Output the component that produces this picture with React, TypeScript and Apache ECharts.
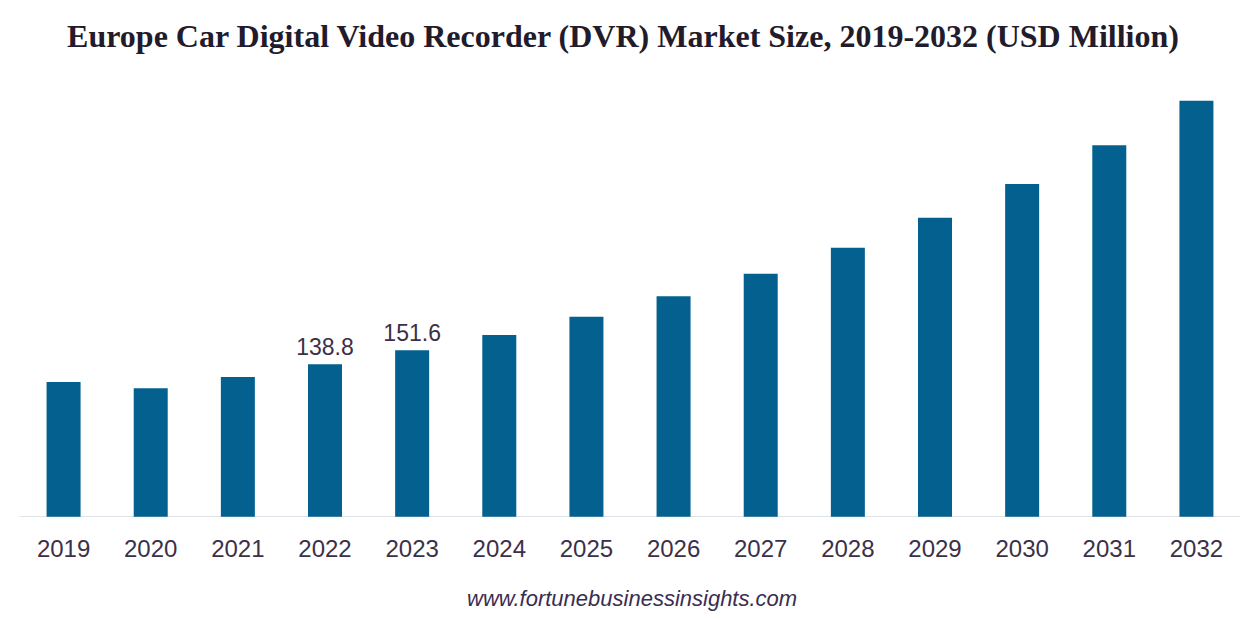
import React, { useEffect, useRef } from "react";
import * as echarts from "echarts";

const years = ["2019", "2020", "2021", "2022", "2023", "2024", "2025", "2026", "2027", "2028", "2029", "2030", "2031", "2032"];
const marketSize = [122.7, 117.0, 127.3, 138.8, 151.6, 165.5, 182.2, 200.8, 221.4, 245.1, 272.4, 303.1, 338.4, 379.0];
const labelledYears = ["2022", "2023"];

const titleText = "Europe Car Digital Video Recorder (DVR) Market Size, 2019-2032 (USD Million)";
const sourceText = "www.fortunebusinessinsights.com";

export default function App() {
  const ref = useRef<HTMLDivElement>(null);
  useEffect(() => {
    document.body.style.margin = "0";
    const chart = echarts.init(ref.current!, null, { renderer: "svg" });
    chart.setOption({
      animation: false,
      backgroundColor: "#ffffff",
      title: {
        text: titleText,
        left: "center",
        top: 15,
        textStyle: {
          fontFamily: "Liberation Serif",
          fontWeight: "bold",
          fontSize: 32,
          color: "#221b2b",
        },
      },
      graphic: [
        {
          type: "text",
          left: 467,
          top: 587,
          style: {
            text: sourceText,
            font: "italic 22px 'Liberation Sans', Arial, sans-serif",
            fill: "#3a2d52",
          },
        },
      ],
      grid: { left: 20, right: 6, top: 77.7, bottom: 103.3 },
      xAxis: {
        type: "category",
        data: years,
        axisLine: { lineStyle: { color: "#dde3e9", width: 1 } },
        axisTick: { show: false },
        axisLabel: {
          margin: 20,
          fontFamily: "Liberation Sans",
          fontSize: 24,
          color: "#3b3049",
        },
      },
      yAxis: {
        type: "value",
        min: 0,
        max: 400,
        show: false,
        splitLine: { show: false },
      },
      series: [
        {
          type: "bar",
          barWidth: 34,
          itemStyle: { color: "#03608f" },
          data: marketSize.map((v, i) => ({
            value: v,
            label: {
              show: labelledYears.includes(years[i]),
              position: "top",
              distance: 6,
              fontFamily: "Liberation Sans",
              fontSize: 23,
              color: "#3b3049",
            },
          })),
        },
      ],
    });
    return () => chart.dispose();
  }, []);
  return <div ref={ref} style={{ width: 1246, height: 620 }} />;
}
